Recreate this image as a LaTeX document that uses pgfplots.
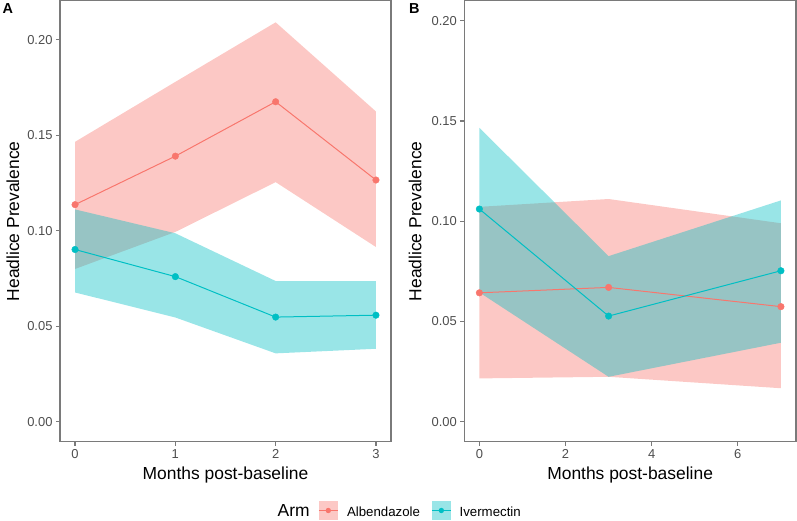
\documentclass[border=0pt]{standalone}
\usepackage{fontspec}
\setmainfont{Liberation Sans}
\usepackage{pgfplots}
\pgfplotsset{compat=1.18}
\definecolor{albred}{HTML}{F8766D}
\definecolor{ivcyan}{HTML}{00BFC4}
\definecolor{tickgray}{HTML}{4D4D4D}
\definecolor{framegray}{HTML}{7A7A7A}
\pgfplotsset{
  panel/.style={
    scale only axis, height=441bp,
    tick align=outside, major tick length=4bp,
    xtick pos=left, ytick pos=left,
    axis line style={draw=framegray, line width=1.2bp},
    tick style={draw=framegray, line width=1.1bp},
    ticklabel style={font=\fontsize{13}{13}\selectfont, text=tickgray},
    ytick={0,0.05,0.10,0.15,0.20},
    yticklabel={\pgfmathprintnumber[fixed,fixed zerofill,precision=2,assume math mode=true]{\tick}},
    xticklabel={\pgfmathprintnumber[assume math mode=true]{\tick}},
    label style={font=\fontsize{17.5}{17.5}\selectfont},
    xlabel={Months post-baseline},
    ylabel={Headlice Prevalence},
    xlabel style={at={(axis description cs:0.5,-0.0867)}, anchor=base, inner sep=0pt},
  },
  ribbon/.style={forget plot, draw=none, fill=#1, fill opacity=0.4},
  series/.style={forget plot, color=#1, line width=1bp, mark=none},
  pts/.style={forget plot, color=#1, only marks, mark=*, mark size=3.3bp, mark options={draw=none, fill=#1}},
}
\begin{document}
\begin{tikzpicture}
\useasboundingbox (0,0) rectangle (797bp,-521bp);
% Panel A
\begin{axis}[panel, at={(60bp,-0.75bp)}, anchor=north west, width=331bp,
  xmin=-0.15, xmax=3.15, ymin=-0.0105, ymax=0.2205,
  xtick={0,1,2,3},
  ylabel style={at={(axis description cs:-0.1224,0.5)}, anchor=south, inner sep=0pt},
  legend columns=3,
  legend cell align=left,
  legend style={at={(axis description cs:1.0248,-0.1559)}, anchor=center,
    draw=none, fill=none, inner sep=0pt, outer sep=0pt,
    /tikz/column sep=0bp,
    cells={anchor=base west},
    nodes={inner sep=0pt, font=\fontsize{13.3}{13.3}\selectfont}},
]
\addplot[ribbon=albred] coordinates {(0,0.1466)(1,0.1780)(2,0.2092)(3,0.1625)(3,0.0915)(2,0.1255)(1,0.0994)(0,0.0800)} -- cycle;
\addplot[ribbon=ivcyan] coordinates {(0,0.1112)(1,0.0987)(2,0.0737)(3,0.0737)(3,0.0382)(2,0.0358)(1,0.0546)(0,0.0677)} -- cycle;
\addplot[series=albred] coordinates {(0,0.1137)(1,0.1391)(2,0.1676)(3,0.1266)};
\addplot[series=ivcyan] coordinates {(0,0.0902)(1,0.0760)(2,0.0548)(3,0.0558)};
\addplot[pts=albred] coordinates {(0,0.1137)(1,0.1391)(2,0.1676)(3,0.1266)};
\addplot[pts=ivcyan] coordinates {(0,0.0902)(1,0.0760)(2,0.0548)(3,0.0558)};
\addlegendimage{empty legend}
\addlegendentry{\fontsize{17.5}{17.5}\selectfont Arm}
\addlegendimage{legend image code/.code={
  \path (-9bp,0bp) (28bp,0bp);
  \fill[albred, draw=none, fill opacity=0.4] (0bp,-3.7bp) rectangle (19bp,15.3bp);
  \draw[albred, line width=1bp] (0bp,5.8bp) -- (19bp,5.8bp);
  \fill[albred, draw=none] (9.5bp,5.8bp) circle (2.7bp);}}
\addlegendentry{Albendazole}
\addlegendimage{legend image code/.code={
  \path (-11.7bp,0bp) (27.6bp,0bp);
  \fill[ivcyan, draw=none, fill opacity=0.4] (0bp,-3.7bp) rectangle (19bp,15.3bp);
  \draw[ivcyan, line width=1bp] (0bp,5.8bp) -- (19bp,5.8bp);
  \fill[ivcyan, draw=none] (9.5bp,5.8bp) circle (2.7bp);}}
\addlegendentry{Ivermectin}
\end{axis}
% Panel B
\begin{axis}[panel, at={(464.3bp,-0.75bp)}, anchor=north west, width=331.7bp,
  xmin=-0.35, xmax=7.35, ymin=-0.01, ymax=0.21,
  xtick={0,2,4,6},
  ylabel style={at={(axis description cs:-0.1284,0.5)}, anchor=south, inner sep=0pt},
]
\addplot[ribbon=albred] coordinates {(0,0.1072)(3,0.1111)(7,0.0990)(7,0.0167)(3,0.0224)(0,0.0216)} -- cycle;
\addplot[ribbon=ivcyan] coordinates {(0,0.1466)(3,0.0826)(7,0.1104)(7,0.0394)(3,0.0224)(0,0.0645)} -- cycle;
\addplot[series=albred] coordinates {(0,0.0643)(3,0.0670)(7,0.0574)};
\addplot[series=ivcyan] coordinates {(0,0.1061)(3,0.0527)(7,0.0753)};
\addplot[pts=albred] coordinates {(0,0.0643)(3,0.0670)(7,0.0574)};
\addplot[pts=ivcyan] coordinates {(0,0.1061)(3,0.0527)(7,0.0753)};
\end{axis}
\node[anchor=base west, inner sep=0pt, font=\fontsize{14.5}{14.5}\selectfont\bfseries] at (2.5bp,-13.4bp) {A};
\node[anchor=base west, inner sep=0pt, font=\fontsize{14.5}{14.5}\selectfont\bfseries] at (409bp,-13.6bp) {B};
\end{tikzpicture}
\end{document}
